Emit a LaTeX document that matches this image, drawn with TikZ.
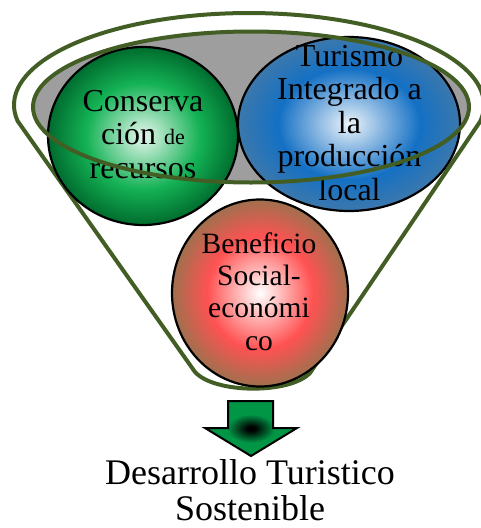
\documentclass[tikz,border=0pt]{standalone}
\usepackage{fontspec}
\setmainfont{Liberation Serif}
\usetikzlibrary{shapes.geometric}
\definecolor{olive}{RGB}{66,94,36}
\definecolor{funnelgray}{RGB}{158,158,158}
\definecolor{gmid}{RGB}{20,178,85}
\definecolor{gedge}{RGB}{0,108,46}
\definecolor{bmid}{RGB}{20,112,196}
\definecolor{bedge}{RGB}{60,120,172}
\definecolor{rmid}{RGB}{255,82,82}
\definecolor{redge}{RGB}{160,112,78}
\definecolor{amid}{RGB}{0,150,70}
\pgfdeclareradialshading{greenball}{\pgfpoint{0bp}{0bp}}{color(0bp)=(white!90!gmid); color(15bp)=(gmid); color(25bp)=(gedge); color(50bp)=(gedge)}
\pgfdeclareradialshading{blueball}{\pgfpoint{0bp}{0bp}}{color(0bp)=(white!92!bmid); color(16bp)=(bmid); color(25bp)=(bedge); color(50bp)=(bedge)}
\pgfdeclareradialshading{redball}{\pgfpoint{0bp}{0bp}}{color(0bp)=(white); color(15bp)=(rmid); color(25bp)=(redge); color(50bp)=(redge)}
\pgfdeclareradialshading{arrowshade}{\pgfpoint{0bp}{0bp}}{color(0bp)=(black); color(2bp)=(black); color(13bp)=(amid); color(50bp)=(amid)}
\tikzset{
  funnelline/.style={draw=olive, line width=4pt, line join=round},
  ball/.style={ellipse, draw=black, line width=2.2pt, inner sep=0pt},
  balltext/.style={align=center, anchor=base, font=\fontsize{32}{33.5}\selectfont, inner sep=0pt},
}
\begin{document}
\begin{tikzpicture}[x=1pt,y=-1pt]
\useasboundingbox (0,0) rectangle (480,528);
% funnel outline
\draw[funnelline] (17.6,121) arc[start angle=170, end angle=370, x radius=235, y radius=92]
  -- (310,373) .. controls (290,394) and (215,394) .. (195,372) -- cycle;
% inner gray ellipse (fill)
\fill[funnelgray] (251,107) ellipse[x radius=218, y radius=75.5];
% balls
\node[ball, shading=greenball, minimum width=190pt, minimum height=178pt] (green) at (143,136) {};
\node[ball, shading=blueball, minimum width=222pt, minimum height=174pt] (blue) at (349,124) {};
\node[ball, shading=redball, minimum width=176pt, minimum height=187pt] (red) at (260,293) {};
% texts (base anchor = last line)
\node[balltext] (greentext) at (143,178) {Conserva\\ción {\fontsize{22}{22}\selectfont de}\\recursos};
\node[balltext] (bluetext) at (349.5,200) {Turismo\\Integrado a\\la\\producción\\local};
\node[balltext, font=\fontsize{29.5}{32.3}\selectfont] (redtext) at (259,350) {Beneficio\\Social-\\económi\\co};
% inner ellipse outline on top
\draw[funnelline] (251,107) ellipse[x radius=218, y radius=75.5];
% arrow
\path[draw=black, line width=2pt, line join=miter, shading=arrowshade]
  (228,401) -- (273,401) -- (273,428) -- (297,428) -- (251,456) -- (205,428) -- (228,428) -- cycle;
\node[balltext, font=\fontsize{36}{36.5}\selectfont] (result) at (250,520.5) {Desarrollo Turistico\\Sostenible};
\end{tikzpicture}
\end{document}
